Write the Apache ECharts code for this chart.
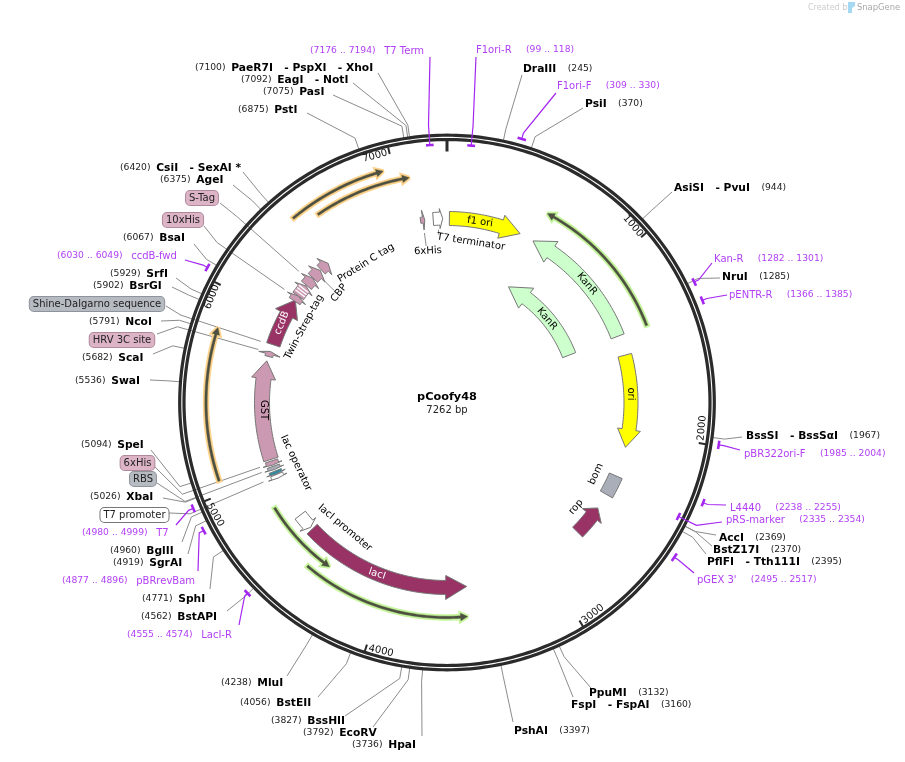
<!DOCTYPE html>
<html><head><meta charset="utf-8">
<style>html,body{margin:0;padding:0;background:#fff}#c{width:905px;height:762px}</style>
<script src="https://cdn.jsdelivr.net/npm/echarts@6/dist/echarts.min.js"></script>
</head><body><div id="c"></div>
<script>
// ---------- values ----------
const plasmidName = 'pCoofy48';
const plasmidLength = 7262;
const tickLabels = [1000, 2000, 3000, 4000, 5000, 6000, 7000];

const siteNames = ['PstI','PasI','EagI - NotI','PaeR7I - PspXI - XhoI','DraIII','PsiI','AsiSI - PvuI','NruI','BssSI - BssSαI','AccI','BstZ17I','PflFI - Tth111I','PpuMI','FspI - FspAI','PshAI','HpaI','EcoRV','BssHII','BstEII','MluI','BstAPI','SphI','SgrAI','BglII','XbaI','SpeI','SwaI','ScaI','NcoI','BsrGI','SrfI','BsaI','AgeI','CsiI - SexAI *'];
const sitePositions = [6875,7075,7092,7100,245,370,944,1285,1967,2369,2370,2395,3132,3160,3397,3736,3792,3827,4056,4238,4562,4771,4919,4960,5026,5094,5536,5682,5791,5902,5929,6067,6375,6420];

const primerNames = ['T7 Term','F1ori-R','F1ori-F','Kan-R','pENTR-R','pBR322ori-F','L4440','pRS-marker',"pGEX 3'",'LacI-R','pBRrevBam','T7','ccdB-fwd'];
const primerStarts = [7176,99,309,1282,1366,1985,2238,2335,2495,4555,4877,4980,6030];
const primerEnds = [7194,118,330,1301,1385,2004,2255,2354,2517,4574,4896,4999,6049];

const featureNames = ['f1 ori','KanR','KanR','ori','bom','rop','lacI','lacI promoter','T7 promoter','lac operator','RBS','6xHis','GST','HRV 3C site','ccdB','10xHis','Twin-Strep-tag','S-Tag','CBP','Protein C tag','6xHis','T7 terminator'];
const featureTails = [15,1388,1388,1515,2289,2719,4575,4690,4985,5008,5040,5075,5085,5738,5817,6125,6165,6250,6312,6385,7095,7175];
const featureTips = [472,565,565,2100,2420,2521,3508,4590,4960,4988,5018,5048,5709,5772,6133,6165,6245,6310,6378,6445,7122,7235];

const translationTails = [1390,4813,4448,5063,6457,6566];
const translationTips = [565,4349,3520,5812,6951,7070];

const boxedNames = ['S-Tag','10xHis','Shine-Dalgarno sequence','HRV 3C site','6xHis','RBS','T7 promoter'];
const boxedPositions = [6284,6149,5813,5763,5061,5029,4974];

// ---------- layout and styles ----------
const C = {dark:'#2b2b2b', lead:'#8c8c8c', purple:'#a526f2', ptext:'#b13ff5', stroke:'#777777',
  pink:'#cc99b2', plum:'#993366', yellow:'#ffff00', mint:'#ccffcc', slate:'#a9aeb8', teal:'#2f8ca3', white:'#ffffff'};
const FONT = '"DejaVu Sans", Verdana, sans-serif';

// track radius, body width, head width, head length, fill
const featureStyle = [
 [184,14,24,20,C.yellow],[183,14,25,21,C.mint],[131,14,25,21,C.mint],[184,14,23,18,C.yellow],
 [184,14,14,0,C.slate],[184,14,24,10,C.plum],[185,14,24,21,C.plum],[185,13,21,4,C.white],
 [185,13,20,1,C.white],[185,13,20,1,C.teal],[185,13,20,1,C.slate],[185,13,20,1,C.pink],
 [185,15,24,18,C.pink],[184,8,22,3,C.pink],[183,14,25,17,C.plum],[183,13,22,3,C.pink],
 [183,13,22,4,C.pink],[183,13,23,4,C.pink],[183,13,23,5,C.pink],[183,12,22,5,C.pink],
 [184,6,20,2,C.pink],[184,13,20,3,C.white]
];
// radius, halo colour
const translationStyle = [[214,'#c5f59b'],[202,'#c5f59b'],[215,'#c5f59b'],[241,'#fdd28a'],[240,'#fdd28a'],[228,'#fdd28a']];
const translationCore = '#4d5040';

// side, label x, label y, leader start x, leader start y
const siteLayout = [
 ['L',238,110,307,113],['L',263,92,333,95],['L',241,80,353,83],['L',195,68,378,73],
 ['R',523,69,522,75],['R',585,104,583,108],['R',674,188,672,192],['R',722,277,720,278],
 ['R',746,436,742,437],['R',719,538,716,535],['R',713,550,712,546],['R',707,562,706,554],
 ['R',589,693,591,688],['R',571,705,573,697],['R',514,731,513,722],['L',352,745,422,736],
 ['L',303,733,373,727],['L',271,721,345,716],['L',240,703,318,697],['L',221,683,287,676],
 ['L',141,617,227,611],['L',142,599,210,589],['L',113,563,188,554],['L',110,551,182,542],
 ['L',90,497,163,498],['L',81,445,151,450],['L',75,381,150,380],['L',82,358,153,354],
 ['L',89,322,161,321],['L',93,286,172,287],['L',110,274,176,278],['L',123,238,194,244],
 ['L',160,180,233,185],['L',120,168,243,172]
];
// side, x, y, leader x, y, marker radius
const primerLayout = [
 ['L',310,51,430,57,258],['R',476,50,476,57,258],['R',557,86,556,93,274],['R',714,259,712,263,275],
 ['R',729,295,727,295,275],['R',744,454,740,450,275],['R',730,508,726,505,275],['R',726,520,722,522,258],
 ['R',697,580,694,573,275],['L',127,635,239,625,276],['L',62,581,198,571,275],['L',82,533,176,525,275],
 ['L',57,256,185,260,275]
];
// left x, right x, y, fill, border, leader x, y, end radius
const boxedLayout = [
 [185,219,198,'#dcb4c6','#b08a9c',220,203,198],[163,203,220,'#dcb4c6','#b08a9c',204,226,198],
 [29,165,304,'#b6bac1','#8f949c',166,306,196],[88,156,340,'#dcb4c6','#b08a9c',157,334,196],
 [120,155,463,'#dcb4c6','#b08a9c',155,467,198],[129,157,479,'#b6bac1','#8f949c',157,483,198],
 [100,169,515,'#ffffff','#777777',169,513,200]
];
// text, x, y, rotation, colour
const innerLabels = [
 ['f1 ori',480,222,8,'#000'],['T7 terminator',471,242,9,'#000'],['6xHis',428,251,-3,'#000'],
 ['KanR',587,284,50,'#000'],['KanR',547,319,50,'#000'],['ori',631,394,90,'#000'],
 ['bom',596,474,-65,'#000'],['rop',576,507,-50,'#000'],['lacI',377,574,18,'#fff'],
 ['lacI promoter',345,528,40,'#000'],['lac operator',296,463,65,'#000'],['GST',264,410,90,'#000'],
 ['ccdB',282,323,-68,'#fff'],['Twin-Strep-tag',304,327,-62,'#000'],['CBP',339,293,-52,'#000'],
 ['Protein C tag',366,263,-32,'#000']
];
const tickLabelLayout = [[633,226,50],[702,428,-85],[593,614,-38],[381,651,13],[215,515,60],[212,297,-68],[375,156,-15]];
// bp, inner radius, outer radius
const shortLeaders = [[6350,158,173],[7109,158,171],[7205,168,173]];
const stripeBps = [6185,6203,6221];

const ELBOW = 280, NB = '\u00a0';

// ---------- helpers ----------
function arc(api, r, a, b, n) {
  const pts = [];
  for (let i = 0; i <= n; i++) pts.push(api.coord([r, a + (b - a) * i / n]));
  return pts;
}
function arrow(api, tail, tip, r, w, hw, hl) {
  const k = plasmidLength / (2 * Math.PI * r);
  const base = tip - Math.sign(tip - tail) * hl * k;
  const n = Math.max(4, Math.ceil(Math.abs(base - tail) / 20));
  let pts = arc(api, r + w / 2, tail, base, n);
  if (hl > 0) {
    pts.push(api.coord([r + hw / 2, base]), api.coord([r, tip]), api.coord([r - hw / 2, base]));
  }
  return pts.concat(arc(api, r - w / 2, base, tail, n));
}
const seg = (pts, c, w) => ({type:'polyline', shape:{points:pts}, style:{stroke:c, lineWidth:w, fill:null}, silent:true});
function richLine(side, name, pos, purple) {
  const gap = t => `{g|${t}}`;
  const nm = name.split(' - ').map(s => `{${purple ? 'n' : 'b'}|${s.replace(/ /g, NB)}}`).join(gap(NB + NB + NB + NB) + `{b|-${NB}}`);
  const p = `{${purple ? 'q' : 'p'}|${pos}}`;
  return side === 'L' ? p + gap(NB + NB + (purple ? NB : '')) + nm : nm + gap(NB + NB + NB + NB + (purple ? NB : '')) + p;
}
const rich = {
  b:{font:`bold 10.7px ${FONT}`, fill:'#000'},
  p:{font:`9.2px ${FONT}`, fill:'#222'},
  g:{font:`9px ${FONT}`, fill:'#222'},
  n:{font:`10px ${FONT}`, fill:C.ptext},
  q:{font:`9.2px ${FONT}`, fill:C.ptext}
};
const base = {type:'custom', coordinateSystem:'polar', silent:true, animation:false, clip:false};
const idx = arr => arr.map((_, i) => [100, i]);
const enc = {radius:0, angle:1};

const option = {
  animation:false,
  backgroundColor:'#fff',
  polar:{center:[447,402.5], radius:300},
  angleAxis:{type:'value', min:0, max:plasmidLength, startAngle:90, clockwise:true, show:false},
  radiusAxis:{type:'value', min:0, max:300, show:false},
  graphic:{elements:[
    {type:'text', x:447, y:397.5, style:{text:plasmidName, font:`bold 11.3px ${FONT}`, fill:'#000', textAlign:'center', textVerticalAlign:'middle'}},
    {type:'text', x:447, y:410, style:{text:plasmidLength + ' bp', font:`10px ${FONT}`, fill:'#222', textAlign:'center', textVerticalAlign:'middle'}},
    {type:'text', x:808, y:7.5, style:{text:'Created by', font:`8px ${FONT}`, fill:'#cccccc', textVerticalAlign:'middle'}},
    {type:'polygon', shape:{points:[[848,2],[855,2],[855,6],[852,8],[852,13],[848,13]]}, style:{fill:'#a5d8f3'}},
    {type:'text', x:857, y:7.5, style:{text:'SnapGene', font:`8.4px ${FONT}`, fill:'#a8a8a8', textVerticalAlign:'middle'}}
  ]},
  series:[
    // leaders to restriction sites
    {...base, encode:enc, data:idx(siteNames), renderItem(p, api){
      const i = p.dataIndex, l = siteLayout[i], bp = sitePositions[i];
      return seg([[l[3],l[4]], api.coord([ELBOW,bp]), api.coord([267,bp])], C.lead, 1);
    }},
    // leaders to feature labels
    {...base, encode:enc, data:idx(boxedNames), renderItem(p, api){
      const i = p.dataIndex, l = boxedLayout[i], bp = boxedPositions[i];
      return seg([[l[5],l[6]], api.coord([ELBOW,bp]), api.coord([l[7],bp])], C.lead, 1);
    }},
    // backbone
    {...base, encode:enc, data:[[267.3,0],[263,0]], renderItem(p, api){
      const r = api.value(0);
      return {type:'polygon', shape:{points:arc(api, r, 0, plasmidLength, 360)}, style:{fill:null, stroke:C.dark, lineWidth:3.2}, silent:true};
    }},
    // origin tick
    {...base, encode:enc, data:[[0,0]], renderItem(p, api){ return seg([api.coord([251,0]), api.coord([262,0])], C.dark, 3); }},
    // ticks
    {...base, encode:enc, data:tickLabels.map(t => [100,t]), renderItem(p, api){
      const t = api.value(1);
      return seg([api.coord([255,t]), api.coord([262,t])], C.dark, 2);
    }},
    // tick labels
    {...base, encode:enc, data:tickLabels.map(t => [100,t]), renderItem(p, api){
      const l = tickLabelLayout[p.dataIndex];
      return {type:'text', x:l[0], y:l[1], rotation:-l[2]*Math.PI/180, style:{text:String(tickLabels[p.dataIndex]), font:`10px ${FONT}`, fill:'#111', textAlign:'center', textVerticalAlign:'middle'}, silent:true};
    }},
    // primers: leader and marker
    {...base, encode:enc, data:idx(primerNames), renderItem(p, api){
      const i = p.dataIndex, l = primerLayout[i], s = primerStarts[i], e = primerEnds[i], m = (s+e)/2;
      return {type:'group', children:[
        seg([[l[3],l[4]], api.coord([ELBOW - (l[5] < 260 ? 2 : 0), m]), api.coord([l[5],m])], C.purple, 1.2),
        {type:'polyline', shape:{points:arc(api, l[5], s - 8, e + 8, 4)}, style:{stroke:C.purple, lineWidth:2.6, fill:null}, silent:true}
      ]};
    }},
    // translated ORF arcs with halo
    {...base, encode:enc, data:idx(translationTails), renderItem(p, api){
      const i = p.dataIndex, [r, halo] = translationStyle[i];
      const pts = arrow(api, translationTails[i], translationTips[i], r, 2.4, 7.5, 7);
      return {type:'group', children:[
        {type:'polygon', shape:{points:pts}, style:{fill:halo, stroke:halo, lineWidth:4, lineJoin:'miter', miterLimit:2}, silent:true},
        {type:'polygon', shape:{points:pts}, style:{fill:translationCore, stroke:translationCore, lineWidth:.4}, silent:true}
      ]};
    }},
    // features
    {...base, encode:enc, data:idx(featureNames), renderItem(p, api){
      const i = p.dataIndex, [r, w, hw, hl, fill] = featureStyle[i];
      return {type:'polygon', shape:{points:arrow(api, featureTails[i], featureTips[i], r, w, hw, hl)}, style:{fill, stroke:C.stroke, lineWidth:1}, silent:true};
    }},
    // white stripes of the strep tag
    {...base, encode:enc, data:stripeBps.map(b => [100,b]), renderItem(p, api){
      const b = api.value(1);
      return seg([api.coord([177,b]), api.coord([189,b])], '#fff', 1.4);
    }},
    // short leaders beside inner labels
    {...base, encode:enc, data:shortLeaders.map(s => [100,s[0]]), renderItem(p, api){
      const s = shortLeaders[p.dataIndex];
      return seg([api.coord([s[1],s[0]]), api.coord([s[2],s[0]])], C.lead, 1);
    }},
    // site labels
    {...base, encode:enc, data:idx(siteNames), renderItem(p, api){
      const i = p.dataIndex, l = siteLayout[i];
      return {type:'text', x:l[1], y:l[2], style:{text:richLine(l[0], siteNames[i], `(${sitePositions[i]})`, false), rich, textAlign:'left', textVerticalAlign:'middle'}, silent:true};
    }},
    // primer labels
    {...base, encode:enc, data:idx(primerNames), renderItem(p, api){
      const i = p.dataIndex, l = primerLayout[i];
      return {type:'text', x:l[1], y:l[2], style:{text:richLine(l[0], primerNames[i], `(${primerStarts[i]}${NB}..${NB}${primerEnds[i]})`, true), rich, textAlign:'left', textVerticalAlign:'middle'}, silent:true};
    }},
    // boxed labels
    {...base, encode:enc, data:idx(boxedNames), renderItem(p, api){
      const i = p.dataIndex, l = boxedLayout[i];
      return {type:'text', x:(l[0]+l[1])/2, y:l[2], style:{text:boxedNames[i], font:`10px ${FONT}`, fill:'#222', textAlign:'center', textVerticalAlign:'middle',
        backgroundColor:l[3], borderColor:l[4], borderWidth:1, borderRadius:4, padding:[2,3,2,3]}, silent:true};
    }},
    // labels on and beside features
    {...base, encode:enc, data:idx(innerLabels), renderItem(p, api){
      const l = innerLabels[p.dataIndex];
      return {type:'text', x:l[1], y:l[2], rotation:-l[3]*Math.PI/180, style:{text:l[0], font:`10px ${FONT}`, fill:l[4], textAlign:'center', textVerticalAlign:'middle'}, silent:true};
    }}
  ]
};
const chart = echarts.init(document.getElementById('c'), null, {renderer:'canvas'});
chart.setOption(option);
</script></body></html>
